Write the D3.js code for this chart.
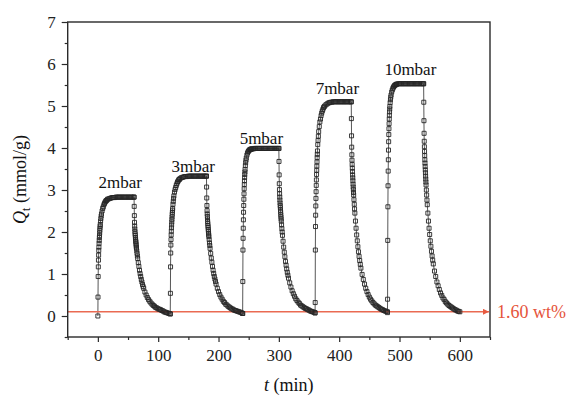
<!DOCTYPE html>
<html><head><meta charset="utf-8">
<script src="https://cdn.jsdelivr.net/npm/d3@7"></script>
<style>
html,body{margin:0;padding:0;background:#fff;}
svg{display:block;font-family:"Liberation Serif","Times New Roman",serif;}
</style></head>
<body><svg id="chart" width="570" height="397"></svg>
<script>
// ---- data ----
const pressureLabels = ["2mbar","3mbar","5mbar","7mbar","10mbar"];
const cycleStart = [0, 120, 240, 360, 480];   // min
const desorbOffset = 60;                       // min after cycle start
const labelT = [37, 158, 271, 397, 518];
const labelQ = [3.05, 3.43, 4.10, 5.29, 5.74];
const xTicks = [0, 100, 200, 300, 400, 500, 600];
const yTicks = [0, 1, 2, 3, 4, 5, 6, 7];
const refLineQ = 0.10;
const refLineLabel = "1.60 wt%";

// time offsets (min) within adsorption / desorption steps
const adsT = [0,0.25,0.5,0.75,1,1.25,1.5,1.75,2,2.25,2.5,2.75,3,3.25,3.5,3.75,4,4.5,5,5.5,6,7,8,9,10,11,12,13,14,15,16,18,20,22,24,26,28,30,32,34,36,38,40,42,44,46,48,50,52,54,56,58,60];
const desT = [0,0.25,0.5,0.75,1,1.25,1.5,1.75,2,2.25,2.5,2.75,3,3.25,3.5,3.75,4,4.5,5,5.5,6,7,8,9,10,11,12,13,14,15,16,18,20,22,24,26,28,30,32,34,36,38,40,42,44,46,48,50,52,54,56,58,60];

// Qt (mmol/g) adsorption
const ads2mbar = [0,0.45,0.94,1.17,1.33,1.45,1.56,1.64,1.73,1.80,1.87,1.92,1.98,2.04,2.09,2.14,2.18,2.26,2.32,2.38,2.43,2.50,2.56,2.60,2.65,2.68,2.71,2.73,2.75,2.76,2.78,2.79,2.80,2.81,2.82,2.82,2.82,2.83,2.83,2.83,2.83,2.83,2.83,2.83,2.83,2.83,2.83,2.83,2.83,2.83,2.83,2.83,2.83];
const ads3mbar = [0.05,0.54,1.17,1.50,1.69,1.82,1.93,2.02,2.10,2.17,2.24,2.30,2.36,2.42,2.47,2.52,2.56,2.66,2.73,2.80,2.86,2.95,3.01,3.06,3.11,3.15,3.19,3.21,3.24,3.25,3.27,3.29,3.30,3.31,3.32,3.32,3.32,3.33,3.33,3.33,3.33,3.33,3.33,3.33,3.33,3.33,3.33,3.33,3.33,3.33,3.33,3.33,3.33];
const ads5mbar = [0.06,0.82,1.57,1.85,2.09,2.29,2.47,2.63,2.78,2.91,3.03,3.13,3.22,3.30,3.37,3.43,3.49,3.58,3.65,3.71,3.76,3.83,3.88,3.91,3.93,3.95,3.96,3.97,3.97,3.98,3.98,3.98,3.99,3.99,3.99,3.99,3.99,3.99,3.99,3.99,3.99,3.99,3.99,3.99,3.99,3.99,3.99,3.99,3.99,3.99,3.99,3.99,3.99];
const ads7mbar = [0.07,0.32,1.57,2.13,2.40,2.62,2.80,2.96,3.11,3.24,3.37,3.47,3.57,3.67,3.77,3.85,3.93,4.08,4.18,4.28,4.39,4.51,4.62,4.69,4.77,4.83,4.88,4.92,4.96,4.98,5.00,5.03,5.05,5.07,5.08,5.09,5.09,5.10,5.10,5.10,5.10,5.10,5.10,5.10,5.10,5.10,5.10,5.10,5.10,5.10,5.10,5.10,5.10];
const ads10mbar = [0.08,0.40,1.80,2.60,3.10,3.45,3.72,3.95,4.15,4.32,4.46,4.58,4.69,4.78,4.86,4.93,4.99,5.08,5.15,5.21,5.26,5.33,5.38,5.42,5.45,5.47,5.49,5.50,5.51,5.52,5.52,5.53,5.53,5.53,5.53,5.53,5.53,5.53,5.53,5.53,5.53,5.53,5.53,5.53,5.53,5.53,5.53,5.53,5.53,5.53,5.53,5.53,5.53];

// Qt (mmol/g) desorption
const des2mbar = [2.83,2.61,2.39,2.23,2.14,2.07,2.01,1.96,1.92,1.87,1.83,1.79,1.76,1.72,1.68,1.64,1.61,1.55,1.49,1.43,1.37,1.27,1.18,1.09,1.01,0.94,0.87,0.81,0.75,0.70,0.66,0.57,0.50,0.44,0.39,0.35,0.31,0.28,0.25,0.23,0.20,0.19,0.17,0.16,0.15,0.13,0.12,0.10,0.09,0.08,0.07,0.06,0.05];
const des3mbar = [3.33,3.07,2.81,2.63,2.51,2.43,2.37,2.31,2.25,2.20,2.15,2.11,2.06,2.02,1.97,1.93,1.89,1.82,1.74,1.68,1.61,1.49,1.38,1.28,1.18,1.09,1.01,0.94,0.88,0.82,0.76,0.66,0.58,0.51,0.45,0.40,0.35,0.32,0.28,0.26,0.23,0.21,0.19,0.17,0.16,0.14,0.13,0.12,0.11,0.10,0.09,0.08,0.06];
const des5mbar = [3.99,3.68,3.36,3.15,3.01,2.91,2.83,2.76,2.69,2.63,2.58,2.52,2.47,2.41,2.36,2.31,2.26,2.17,2.08,2.00,1.92,1.78,1.64,1.52,1.41,1.30,1.21,1.12,1.04,0.97,0.90,0.79,0.69,0.60,0.53,0.47,0.41,0.37,0.33,0.30,0.26,0.24,0.22,0.20,0.18,0.17,0.15,0.14,0.12,0.11,0.10,0.09,0.08];
const des7mbar = [5.10,4.70,4.29,4.02,3.84,3.71,3.61,3.52,3.44,3.36,3.29,3.22,3.14,3.07,3.01,2.94,2.88,2.77,2.66,2.55,2.45,2.26,2.09,1.93,1.79,1.65,1.53,1.42,1.32,1.23,1.14,0.99,0.87,0.76,0.66,0.58,0.51,0.45,0.40,0.36,0.32,0.29,0.26,0.24,0.22,0.20,0.18,0.16,0.15,0.13,0.12,0.11,0.10];
const des10mbar = [5.53,5.09,4.65,4.35,4.16,4.03,3.92,3.82,3.72,3.64,3.56,3.48,3.41,3.33,3.26,3.19,3.12,3.00,2.88,2.76,2.65,2.45,2.26,2.09,1.94,1.79,1.66,1.54,1.43,1.33,1.24,1.07,0.94,0.81,0.72,0.63,0.55,0.49,0.43,0.39,0.34,0.31,0.28,0.25,0.23,0.21,0.19,0.17,0.15,0.14,0.12,0.11,0.10];

const adsSeries = [ads2mbar, ads3mbar, ads5mbar, ads7mbar, ads10mbar];
const desSeries = [des2mbar, des3mbar, des5mbar, des7mbar, des10mbar];

(function () {
// ---- build points ----
const points = [];
cycleStart.forEach((c, i) => {
  adsT.forEach((o, j) => points.push({t: c + o, q: adsSeries[i][j]}));
  desT.forEach((o, j) => points.push({t: c + desorbOffset + o, q: desSeries[i][j]}));
});

// ---- chart ----
const svg = d3.select("#chart");
const pL = 67.7, pR = 490, pT = 22, pB = 337;
const x = d3.scaleLinear().domain([-50, 650]).range([pL, pR]);
const y = d3.scaleLinear().domain([-0.5, 7]).range([pB, pT]);
const axisColor = "#2a2a2a";

const defs = svg.append("defs");
defs.append("marker").attr("id","arrow").attr("viewBox","0 0 10 10")
  .attr("refX",10).attr("refY",5).attr("markerWidth",7).attr("markerHeight",6)
  .attr("markerUnits","userSpaceOnUse").attr("orient","auto")
  .append("path").attr("d","M0,0L10,5L0,10Z").attr("fill","#e85a40");

// series line
const line = d3.line().x(d => x(d.t)).y(d => y(d.q));
svg.append("path").datum(points).attr("d", line)
  .attr("fill","none").attr("stroke","#444").attr("stroke-width",0.9);

// red reference line
svg.append("line").attr("x1", x(-50)).attr("x2", x(650) - 1)
  .attr("y1", y(refLineQ)).attr("y2", y(refLineQ))
  .attr("stroke","#ea6a52").attr("stroke-width",1.4).attr("marker-end","url(#arrow)");

// markers
const sym = d3.symbol().type(d3.symbolSquare).size(16);
svg.append("g").selectAll("path").data(points).join("path")
  .attr("transform", d => `translate(${x(d.t)},${y(d.q)})`)
  .attr("d", sym).attr("fill","none").attr("stroke","#262626").attr("stroke-width",0.9);

// axes
const yAxis = d3.axisLeft(y).tickValues(yTicks).tickFormat(d3.format("d")).tickSize(6).tickPadding(6);
const yMinor = d3.axisLeft(y).tickValues(d3.range(-0.5, 7.01, 0.5).filter(v => !yTicks.includes(v))).tickSize(3).tickFormat("");
const xAxis = d3.axisBottom(x).tickValues(xTicks).tickFormat(d3.format("d")).tickSize(5).tickPadding(7);
const xMinor = d3.axisBottom(x).tickValues(d3.range(-50, 651, 50).filter(v => !xTicks.includes(v))).tickSize(3).tickFormat("");

function styleAxis(g) {
  g.select(".domain").remove();
  g.selectAll("line").attr("stroke", axisColor).attr("stroke-width", 1.2);
  g.selectAll("text").attr("fill", "#222").style("font-size", "17px")
    .style("font-family", '"Liberation Serif","Times New Roman",serif');
}
svg.append("g").attr("transform",`translate(${pL},0)`).call(yAxis).call(styleAxis);
svg.append("g").attr("transform",`translate(${pL},0)`).call(yMinor).call(styleAxis);
svg.append("g").attr("transform",`translate(0,${pB})`).call(xAxis).call(styleAxis);
svg.append("g").attr("transform",`translate(0,${pB})`).call(xMinor).call(styleAxis);

// frame
svg.append("rect").attr("x", pL).attr("y", pT).attr("width", pR - pL).attr("height", pB - pT)
  .attr("fill","none").attr("stroke", axisColor).attr("stroke-width", 1.4);

// pressure labels
svg.append("g").selectAll("text").data(pressureLabels).join("text")
  .attr("x", (d, i) => x(labelT[i])).attr("y", (d, i) => y(labelQ[i]))
  .attr("text-anchor","middle").style("font-size","17px").attr("fill","#111")
  .text(d => d);

// reference label
svg.append("text").attr("x", pR + 7).attr("y", y(refLineQ)).attr("dy","0.35em")
  .style("font-size","18px").attr("fill","#e5533a").text(refLineLabel);

// axis titles
const xt = svg.append("text").attr("x", (pL + pR) / 2 + 10).attr("y", 391)
  .attr("text-anchor","middle").style("font-size","18px").attr("fill","#111");
xt.append("tspan").style("font-style","italic").text("t");
xt.append("tspan").text(" (min)");

const yt = svg.append("text").attr("transform", `translate(26,${(pT + pB) / 2}) rotate(-90)`)
  .attr("text-anchor","middle").style("font-size","18px").attr("fill","#111");
yt.append("tspan").style("font-style","italic").text("Q");
yt.append("tspan").attr("dy","4").style("font-size","12px").text("t");
yt.append("tspan").attr("dy","-4").text(" (mmol/g)");
})();
</script>
</body></html>
